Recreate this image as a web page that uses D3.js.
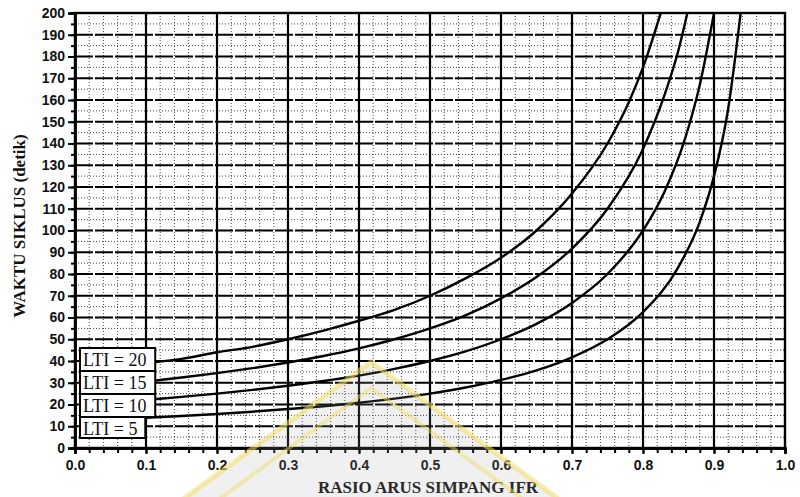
<!DOCTYPE html>
<html>
<head>
<meta charset="utf-8">
<title>Waktu siklus vs IFR</title>
<script src="https://d3js.org/d3.v7.min.js"></script>
<style>
  body { margin: 0; background: #fff; }
  .tick text { font-family: "Liberation Sans", Arial, sans-serif; font-size: 14px; font-weight: bold; fill: #111; }
  .title { font-family: "Liberation Serif", "Times New Roman", serif; font-size: 17px; font-weight: bold; fill: #111; }
  .lti { font-family: "Liberation Serif", "Times New Roman", serif; font-size: 18px; fill: #111; }
</style>
</head>
<body>
<div id="chart"></div>
<script>
// values: [IFR, cycle time in seconds]
var ltiValues = [20, 15, 10, 5];
var cycle20 = [[0.113,39.5],[0.15,41],[0.2,44],[0.25,46.5],[0.3,50],[0.35,54],[0.4,58.5],[0.45,63.5],[0.5,70],[0.55,78],[0.6,87.5],[0.65,100],[0.7,117],[0.75,140],[0.78,159],[0.8,175],[0.825,200]];
var cycle15 = [[0.113,31],[0.15,32.4],[0.2,34.4],[0.25,36.7],[0.3,39.3],[0.35,42.3],[0.4,45.8],[0.45,50],[0.5,55],[0.55,61],[0.6,68.8],[0.65,78.6],[0.7,91.7],[0.75,110],[0.8,137.5],[0.83,162],[0.85,183],[0.8625,200]];
var cycle10 = [[0.113,22.5],[0.15,23.5],[0.2,25],[0.25,26.7],[0.3,28.6],[0.35,30.8],[0.4,33.3],[0.45,36.4],[0.5,40],[0.55,44.4],[0.6,50],[0.65,57.1],[0.7,66.7],[0.75,80],[0.8,100],[0.83,117.6],[0.86,143],[0.88,167],[0.9,200]];
var cycle5 = [[0.099,13.9],[0.15,14.7],[0.2,15.6],[0.25,16.7],[0.3,17.9],[0.35,19.2],[0.4,20.8],[0.45,22.7],[0.5,25],[0.55,27.8],[0.6,31.3],[0.65,35.7],[0.7,41.7],[0.75,50],[0.8,62.5],[0.85,83.3],[0.88,104],[0.9,125],[0.92,156],[0.9375,200]];
var curves = [cycle20, cycle15, cycle10, cycle5];

var xTicks = d3.range(0, 10.5, 1).map(function(d){ return d / 10; });
var xMinor = d3.range(0, 51, 1).map(function(d){ return d / 50; });
var yTicks = d3.range(0, 201, 10);
var yMinor = d3.range(0, 201, 5);

var W = 800, H = 497;
var margin = {left: 75, right: 15, top: 13, bottom: 49};
var width = W - margin.left - margin.right;
var height = H - margin.top - margin.bottom;

var x = d3.scaleLinear().domain([0, 1]).range([0, width]);
var y = d3.scaleLinear().domain([0, 200]).range([height, 0]);

var svg = d3.select("#chart").append("svg")
    .attr("width", W).attr("height", H);
var g = svg.append("g")
    .attr("transform", "translate(" + margin.left + "," + margin.top + ")");

// dotted minor grid
g.selectAll(".vminor").data(xMinor.filter(function(d){ return Math.round(d * 50) % 5 != 0; }))
  .enter().append("line")
    .attr("x1", function(d){ return x(d); }).attr("x2", function(d){ return x(d); })
    .attr("y1", 0).attr("y2", height)
    .attr("stroke", "#444").attr("stroke-width", 1).attr("stroke-dasharray", "1,2");
g.selectAll(".hminor").data(yMinor.filter(function(d){ return d % 10 != 0; }))
  .enter().append("line")
    .attr("x1", 0).attr("x2", width)
    .attr("y1", function(d){ return y(d); }).attr("y2", function(d){ return y(d); })
    .attr("stroke", "#444").attr("stroke-width", 1).attr("stroke-dasharray", "1,2");

// heavy major grid
g.selectAll(".vmajor").data(xTicks.slice(1, -1))
  .enter().append("line")
    .attr("x1", function(d){ return x(d); }).attr("x2", function(d){ return x(d); })
    .attr("y1", 0).attr("y2", height)
    .attr("stroke", "#000").attr("stroke-width", 2.2);
g.selectAll(".hmajor").data(yTicks.slice(1, -1))
  .enter().append("line")
    .attr("x1", 0).attr("x2", width)
    .attr("y1", function(d){ return y(d); }).attr("y2", function(d){ return y(d); })
    .attr("stroke", "#000").attr("stroke-width", 2.2).attr("stroke-dasharray", "18,2");

// curves
g.append("clipPath").attr("id", "clip").append("rect")
  .attr("width", width).attr("height", height);
var line = d3.line()
    .x(function(d){ return x(d[0]); })
    .y(function(d){ return y(d[1]); })
    .curve(d3.curveMonotoneX);
g.append("g").attr("clip-path", "url(#clip)")
  .selectAll("path").data(curves).enter().append("path")
    .attr("d", line).attr("fill", "none")
    .attr("stroke", "#000").attr("stroke-width", 2.4);

// frame
g.append("rect").attr("width", width).attr("height", height)
  .attr("fill", "none").attr("stroke", "#000").attr("stroke-width", 2.4);

// axes
g.append("g").call(d3.axisLeft(y).tickValues(yTicks).tickSize(7).tickPadding(3));
g.append("g").call(d3.axisLeft(y).tickValues(yMinor).tickSize(4).tickFormat(""));
g.append("g").attr("transform", "translate(0," + height + ")")
  .call(d3.axisBottom(x).tickValues(xTicks).tickSize(6).tickPadding(6).tickFormat(d3.format(".1f")));
g.append("g").attr("transform", "translate(0," + height + ")")
  .call(d3.axisBottom(x).tickValues(xMinor).tickSize(5).tickFormat(""));
g.selectAll(".domain").attr("stroke", "#000").attr("stroke-width", 2.4);
g.selectAll(".tick line").attr("stroke", "#000").attr("stroke-width", 2);

// LTI labels at the start of each curve
var boxH = 23;
var labels = g.selectAll(".ltibox").data(ltiValues).enter().append("g")
  .attr("transform", function(d, i){ return "translate(5," + (height - 100 + i * boxH) + ")"; });
labels.each(function(d, i){
  var el = d3.select(this);
  var c = curves[i];
  var right = x(c[0][0]) - 5;
  el.append("rect").attr("x", 0).attr("y", 0)
    .attr("width", right).attr("height", i == 3 ? boxH - 2 : boxH)
    .attr("fill", "#fff").attr("stroke", "#000").attr("stroke-width", 2);
  el.append("text").attr("class", "lti").attr("x", 3).attr("y", 18)
    .text("LTI = " + d);
});

// axis titles
svg.append("text").attr("class", "title")
  .attr("x", 428).attr("y", 493).attr("text-anchor", "middle")
  .text("RASIO ARUS SIMPANG IFR");
svg.append("text").attr("class", "title")
  .attr("transform", "translate(25,226) rotate(-90)").attr("text-anchor", "middle")
  .text("WAKTU SIKLUS (detik)");

// faint watermark triangle
svg.append("polygon")
  .attr("points", "371,362 100,560 642,560")
  .attr("fill", "#a0a0a0").attr("fill-opacity", 0.16)
  .attr("stroke", "#f0dc60").attr("stroke-opacity", 0.55).attr("stroke-width", 5);
svg.append("polygon")
  .attr("points", "371,388 136,560 606,560")
  .attr("fill", "none")
  .attr("stroke", "#f0dc60").attr("stroke-opacity", 0.45).attr("stroke-width", 4);
</script>
</body>
</html>
